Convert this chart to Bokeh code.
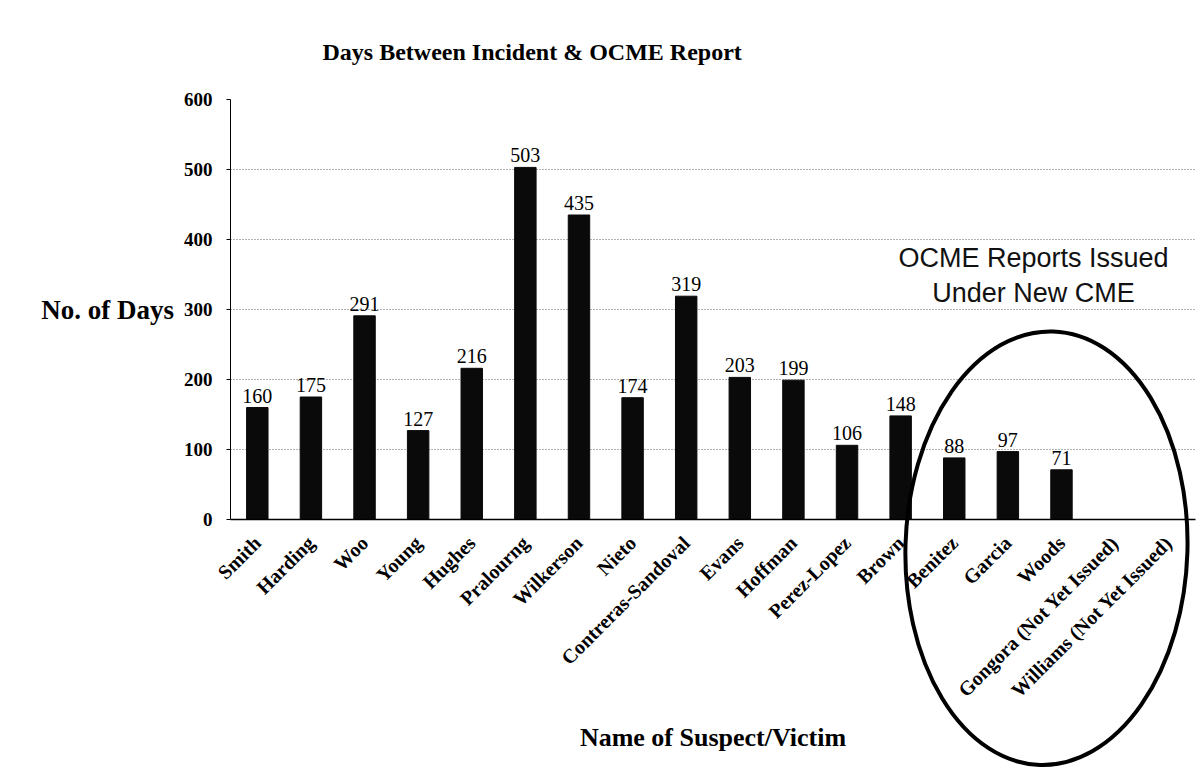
import math
from bokeh.plotting import figure
from bokeh.models import ColumnDataSource, FactorRange, Range1d, LabelSet, Label, FixedTicker
from bokeh.embed import file_html
from bokeh.resources import INLINE

names = ["Smith", "Harding", "Woo", "Young", "Hughes", "Pralourng", "Wilkerson",
         "Nieto", "Contreras-Sandoval", "Evans", "Hoffman", "Perez-Lopez", "Brown",
         "Benitez", "Garcia", "Woods", "Gongora (Not Yet Issued)", "Williams (Not Yet Issued)"]
days = [160, 175, 291, 127, 216, 503, 435, 174, 319, 203, 199, 106, 148, 88, 97, 71, 0, 0]
value_labels = [str(d) if d > 0 else "" for d in days]
y_ticks = [0, 100, 200, 300, 400, 500, 600]

SERIF = "Liberation Serif"
SANS = "Liberation Sans"

# layout (pixels)
W, H = 1200, 770
LEFT, RIGHT, TOP, ZERO_Y = 230, 1195, 99, 519

src = ColumnDataSource(dict(name=names, days=days, lab=value_labels))

p = figure(x_range=FactorRange(factors=names), y_range=Range1d(0, 600),
           width=W, height=H, output_backend="svg", toolbar_location=None,
           min_border_left=LEFT, min_border_right=W - RIGHT, min_border_top=TOP,
           min_border_bottom=H - ZERO_Y)

p.title.text = "Days Between Incident & OCME Report"
p.title.text_font = SERIF
p.title.text_font_size = "24px"
p.title.text_font_style = "bold"
p.title.text_color = "black"
p.title.align = "left"
p.title.offset = 92
p.title.standoff = 70

p.vbar(x="name", top="days", width=0.4, source=src, fill_color="#0a0a0a", line_color="#0a0a0a")

labels = LabelSet(x="name", y="days", text="lab", source=src, text_align="center",
                  text_baseline="bottom", y_offset=5, text_font=SERIF, text_font_size="20px",
                  text_color="black")
p.add_layout(labels)

p.outline_line_color = None
p.xgrid.visible = False
p.ygrid.ticker = FixedTicker(ticks=y_ticks)
p.ygrid.grid_line_color = "#666666"
p.ygrid.grid_line_dash = "1 2"
p.ygrid.grid_line_width = 1

p.yaxis.ticker = FixedTicker(ticks=y_ticks)
p.yaxis.minor_tick_line_color = None
p.yaxis.major_tick_in = 0
p.yaxis.major_tick_out = 4
p.yaxis.major_label_standoff = 14
p.yaxis.major_label_text_font = SERIF
p.yaxis.major_label_text_font_style = "bold"
p.yaxis.major_label_text_font_size = "19px"
p.yaxis.major_label_text_color = "black"
p.yaxis.axis_line_color = "black"
p.yaxis.axis_label = "No. of Days"
p.yaxis.axis_label_orientation = "horizontal"
p.yaxis.axis_label_text_font = SERIF
p.yaxis.axis_label_text_font_style = "bold"
p.yaxis.axis_label_text_font_size = "27px"
p.yaxis.axis_label_text_color = "black"
p.yaxis.axis_label_standoff = 7

p.xaxis.major_label_orientation = math.pi / 4
p.xaxis.major_label_text_font = SERIF
p.xaxis.major_label_text_font_style = "bold"
p.xaxis.major_label_text_font_size = "20px"
p.xaxis.major_label_text_color = "black"
p.xaxis.major_label_standoff = 14
p.xaxis.major_tick_line_color = None
p.xaxis.axis_line_color = "black"
p.xaxis.axis_line_width = 1.5
p.xaxis.axis_label = "Name of Suspect/Victim"
p.xaxis.axis_label_text_font = SERIF
p.xaxis.axis_label_text_font_style = "bold"
p.xaxis.axis_label_text_font_size = "26px"
p.xaxis.axis_label_text_color = "black"
p.xaxis.axis_label_standoff = 11

# annotation text
p.add_layout(Label(x=14.98, y=374, text="OCME Reports Issued", text_font=SANS,
                   text_font_size="27px", text_align="center", text_baseline="middle",
                   text_color="#111111"))
p.add_layout(Label(x=14.98, y=323, text="Under New CME", text_font=SANS,
                   text_font_size="27px", text_align="center", text_baseline="middle",
                   text_color="#111111"))

# hand-drawn ring around the group of reports issued under the new CME
p.ellipse(x=[15.22], y=[-41], width=[282], height=[434], width_units="screen",
          height_units="screen", angle=-0.03, fill_color=None, line_color="black",
          line_width=4, level="overlay")

open("out.html", "w").write(file_html(p, INLINE))
